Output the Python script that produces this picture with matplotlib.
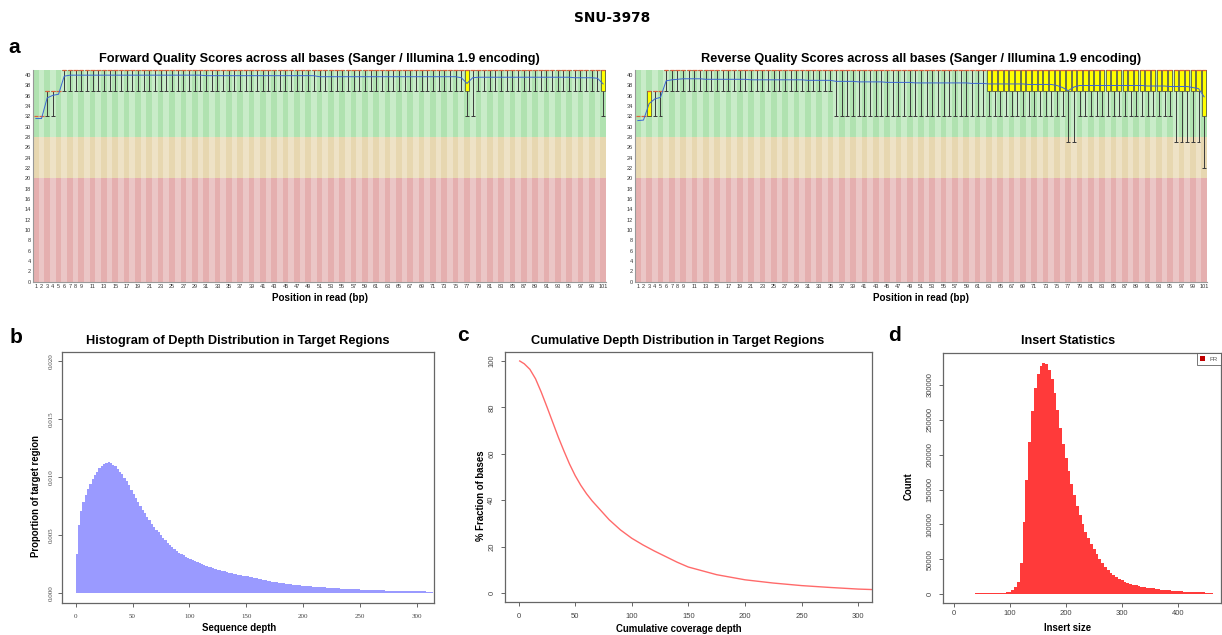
import numpy as np
import matplotlib
matplotlib.use("Agg")
import matplotlib.pyplot as plt
from matplotlib.patches import Patch

plt.rcParams['font.family'] = ['Liberation Sans', 'DejaVu Sans']

# ---- panel a: per-base quality, positions 1..101
positions = np.arange(1, 102)
pos_ticks = list(range(1, 10)) + list(range(11, 102, 2))

fwd_mean = ([31.6, 31.6, 35.6, 36.1, 36.3, 39.8] + [40.0] * 24 + [39.9] * 20 + [39.7] * 25
            + [39.5, 38.4, 39.5] + [39.6] * 17 + [39.5] * 4 + [39.4, 38.3])
fwd_lower = [32, 32, 32, 32, 37] + [37] * 71 + [32, 32] + [37] * 22 + [32]
fwd_q1 = [32, 32, 37, 37, 37] + [41] * 71 + [37, 41] + [41] * 22 + [37]
fwd_median = [32, 32, 37, 37, 37] + [41] * 96
fwd_q3 = [32, 32, 37, 37, 37] + [41] * 96
fwd_upper = [32, 32, 37, 37, 37] + [41] * 96

rev_mean = ([31.2, 31.3, 34.5, 35.4, 35.7, 38.9, 39.1, 39.2] + [39.3] * 4 + [39.2] * 8 + [39.1] * 10
            + [39.0] * 5 + [38.8] * 4 + [38.7] * 5 + [38.6] * 5 + [38.5] * 10 + [38.4] * 3
            + [38.3] * 7 + [38.2] * 5 + [38.0, 37.6, 37.0, 37.7] + [38.0] * 12 + [37.9] * 4
            + [37.8] * 4 + [37.6, 37.4, 35.8])
rev_lower = [32, 32, 32, 32, 32] + [37] * 30 + [32] * 41 + [27, 27] + [32] * 17 + [27] * 5 + [22]
rev_q1 = [32, 32, 32, 37, 37] + [41] * 57 + [37] * 38 + [32]
rev_median = [32, 32, 37, 37, 37] + [41] * 96
rev_q3 = [32, 32, 37, 37, 37] + [41] * 96
rev_upper = [32, 32, 37, 37, 37] + [41] * 96

# ---- panel b: depth histogram (proportion x 1e-3), depths 1,3,...,313
depth_bins = np.arange(1, 314, 2)
depth_prop_e3 = [
    3.4, 5.9, 7.1, 7.9, 8.5, 9.0, 9.45, 9.85, 10.2, 10.5,
    10.8, 11.0, 11.15, 11.25, 11.28, 11.22, 11.1, 10.95, 10.75, 10.5,
    10.25, 9.95, 9.65, 9.3, 8.95, 8.6, 8.25, 7.9, 7.55, 7.2,
    6.9, 6.6, 6.3, 6.0, 5.75, 5.5, 5.25, 5.0, 4.78, 4.56,
    4.36, 4.17, 3.99, 3.82, 3.66, 3.52, 3.39, 3.27, 3.16, 3.06,
    2.96, 2.87, 2.78, 2.69, 2.61, 2.53, 2.45, 2.38, 2.31, 2.24,
    2.17, 2.11, 2.05, 1.99, 1.94, 1.89, 1.84, 1.79, 1.74, 1.70,
    1.66, 1.62, 1.58, 1.54, 1.50, 1.46, 1.42, 1.38, 1.34, 1.30,
    1.26, 1.22, 1.18, 1.14, 1.10, 1.06, 1.02, 0.98, 0.95, 0.92,
    0.89, 0.86, 0.83, 0.80, 0.78, 0.76, 0.74, 0.72, 0.70, 0.68,
    0.66, 0.64, 0.62, 0.60, 0.585, 0.57, 0.555, 0.54, 0.525, 0.51,
    0.495, 0.48, 0.465, 0.45, 0.44, 0.43, 0.42, 0.41, 0.40, 0.39,
    0.38, 0.37, 0.36, 0.35, 0.34, 0.33, 0.32, 0.31, 0.30, 0.295,
    0.29, 0.28, 0.275, 0.27, 0.26, 0.255, 0.25, 0.24, 0.235, 0.23,
    0.225, 0.22, 0.215, 0.21, 0.205, 0.20, 0.195, 0.19, 0.185, 0.18,
    0.175, 0.17, 0.17, 0.165, 0.16, 0.16, 0.155,
]

# ---- panel c: cumulative depth
cum_depth = [1, 5, 10, 15, 20, 25, 30, 35, 40, 45, 50, 55, 60, 65, 70, 80, 90, 100,
             110, 120, 130, 140, 150, 175, 200, 225, 250, 275, 300, 312]
cum_frac = [100, 98.8, 96.4, 92.3, 86.6, 80.3, 73.8, 67.3, 61.3, 55.6, 50.6, 46.4, 42.8,
            39.7, 37.0, 31.6, 27.2, 23.6, 20.7, 18.1, 15.7, 13.3, 11.2, 7.9, 5.7, 4.3,
            3.2, 2.4, 1.7, 1.5]

# ---- panel d: insert size, 0,5,...,460
insert_size = np.arange(0, 461, 5)
insert_count = [
    300, 400, 500, 500, 600, 600, 700, 700, 800, 800,
    900, 900, 1000, 1100, 1200, 1300, 1500, 1800, 2200, 2800,
    3500, 6000, 10000, 17000, 45000, 103000, 163000, 218000, 262000, 295000,
    316000, 327000, 331000, 330000, 322000, 309000, 288000, 264000, 238000, 215000,
    195000, 176000, 158000, 142000, 127000, 113000, 100000, 89000, 80000, 72000,
    64000, 57000, 50000, 44000, 39000, 34500, 30500, 27000, 24000, 21500,
    19500, 17500, 16000, 14800, 13600, 12500, 11600, 10800, 10000, 9300,
    8700, 8100, 7500, 7000, 6500, 6000, 5600, 5200, 4800, 4500,
    4200, 3900, 3600, 3400, 3200, 3000, 2800, 2600, 2400, 2250,
    2100, 1950, 1800,
]

W, H = 1222, 635
fig = plt.figure(figsize=(W / 100, H / 100), dpi=100)


def box(l, t, r, b):
    return [l / W, 1 - b / H, (r - l) / W, (b - t) / H]


def px(x, y):
    return x / W, 1 - y / H


zones = [(0, 20, '#e5afaf', '#ebc6c6'),
         (20, 28, '#e7d7b0', '#eee2c6'),
         (28, 41, '#b0e2b0', '#c9ecc9')]


def quality_panel(ax, mean, lower, q1, med, q3, upper):
    mean, lower, q1, med, q3, upper = map(np.asarray, (mean, lower, q1, med, q3, upper))
    for lo, hi, dark, light in zones:
        cols = [dark if p % 2 else light for p in positions]
        ax.bar(positions, hi - lo, bottom=lo, width=1, color=cols, linewidth=0, zorder=0)
    w = lower < upper
    ax.vlines(positions[w], lower[w], upper[w], color='#3a3a3a', lw=0.7, zorder=2)
    ax.hlines(lower[w], positions[w] - 0.35, positions[w] + 0.35, color='#3a3a3a', lw=0.7, zorder=2)
    ax.hlines(upper[w], positions[w] - 0.35, positions[w] + 0.35, color='#3a3a3a', lw=0.7, zorder=2)
    b = q3 > q1
    ax.bar(positions[b], (q3 - q1)[b], bottom=q1[b], width=0.8, color='#ffff00',
           edgecolor='#404040', linewidth=0.5, zorder=3)
    ax.hlines(med, positions - 0.4, positions + 0.4, color='#e0603a', lw=0.9, zorder=4, clip_on=False)
    ax.plot(positions, mean, color='#3a66d4', lw=0.7, zorder=5)
    ax.set_xlim(0.5, 101.5)
    ax.set_ylim(0, 41)
    ax.set_yticks(range(0, 41, 2))
    ax.set_xticks(pos_ticks)
    ax.tick_params(length=0, labelsize=4, pad=1.5, colors='#333333')
    for s in ('top', 'right'):
        ax.spines[s].set_visible(False)
    for s in ('left', 'bottom'):
        ax.spines[s].set_color('#999999')
        ax.spines[s].set_linewidth(0.8)


ax_f = fig.add_axes(box(33, 70, 606, 281.7))
quality_panel(ax_f, fwd_mean, fwd_lower, fwd_q1, fwd_median, fwd_q3, fwd_upper)
ax_r = fig.add_axes(box(635, 70, 1207, 281.7))
quality_panel(ax_r, rev_mean, rev_lower, rev_q1, rev_median, rev_q3, rev_upper)

fig.text(*px(319.5, 59), 'Forward Quality Scores across all bases (Sanger / Illumina 1.9 encoding)',
         ha='center', va='center', fontsize=9.2, fontweight='bold')
fig.text(*px(921, 59), 'Reverse Quality Scores across all bases (Sanger / Illumina 1.9 encoding)',
         ha='center', va='center', fontsize=9.2, fontweight='bold')
fig.text(*px(320, 298), 'Position in read (bp)', ha='center', va='center', fontsize=7.1, fontweight='bold')
fig.text(*px(921, 298), 'Position in read (bp)', ha='center', va='center', fontsize=7.1, fontweight='bold')


def r_style(ax, size=5.5, family=None):
    for s in ax.spines.values():
        s.set_color('#666666')
        s.set_linewidth(0.9)
    ax.tick_params(direction='out', length=3, width=0.7, color='#666666',
                   labelsize=size, labelcolor='#444444')
    if family:
        for lab in ax.get_xticklabels() + ax.get_yticklabels():
            lab.set_family(family)
    plt.setp(ax.get_yticklabels(), rotation=90, va='center')


# panel b
ax_b = fig.add_axes(box(62, 352, 434, 602.7))
ax_b.bar(depth_bins, np.array(depth_prop_e3) / 1000, width=2, color='#9a9aff', linewidth=0)
ax_b.set_xlim(-12, 315)
ax_b.set_ylim(-0.0008, 0.0208)
ax_b.set_xticks(range(0, 301, 50))
ax_b.set_yticks([0, 0.005, 0.01, 0.015, 0.02])
ax_b.set_yticklabels(['0.000', '0.005', '0.010', '0.015', '0.020'])
r_style(ax_b, 5, 'Liberation Serif')
ax_b.tick_params(axis='x', pad=5)
ax_b.tick_params(axis='y', pad=3)

# panel c
ax_c = fig.add_axes(box(505, 351.7, 871.7, 602.3))
ax_c.plot(cum_depth, cum_frac, color='#ff6a6a', lw=1)
ax_c.set_xlim(-12, 312)
ax_c.set_ylim(-4, 104)
ax_c.set_xticks(range(0, 301, 50))
ax_c.set_yticks(range(0, 101, 20))
r_style(ax_c)
ax_c.tick_params(axis='x', pad=5)
ax_c.tick_params(axis='y', pad=4)

# panel d
ax_d = fig.add_axes(box(943.3, 353.3, 1221, 603.3))
ax_d.bar(insert_size, insert_count, width=5, color='#ff3a3a', linewidth=0)
ax_d.set_xlim(-19, 476)
ax_d.set_ylim(-13300, 345500)
ax_d.set_xticks(range(0, 401, 100))
ax_d.set_yticks(range(0, 300001, 50000))
ax_d.set_yticklabels([str(v) for v in range(0, 300001, 50000)])
r_style(ax_d)
ax_d.tick_params(axis='x', pad=2)
ax_d.tick_params(axis='y', pad=4)
leg = ax_d.legend(handles=[Patch(facecolor='#c00000', label='FR')], loc='upper right',
                  fontsize=4.5, fancybox=False, edgecolor='#555555', borderaxespad=0,
                  handlelength=0.7, handleheight=0.7, borderpad=0.5)
leg.get_frame().set_linewidth(0.7)
for t in leg.get_texts():
    t.set_color('#555555')

# titles and axis labels for b, c, d
fig.text(*px(238, 341), 'Histogram of Depth Distribution in Target Regions',
         ha='center', va='center', fontsize=9.2, fontweight='bold')
fig.text(*px(678, 341), 'Cumulative Depth Distribution in Target Regions',
         ha='center', va='center', fontsize=9.2, fontweight='bold')
fig.text(*px(1068, 341.5), 'Insert Statistics', ha='center', va='center', fontsize=9.1, fontweight='bold')
fig.text(*px(239.5, 628), 'Sequence depth', ha='center', va='center', fontsize=6.9, fontweight='bold')
fig.text(*px(679, 628.5), 'Cumulative coverage depth', ha='center', va='center', fontsize=6.9, fontweight='bold')
fig.text(*px(1068, 628), 'Insert size', ha='center', va='center', fontsize=6.9, fontweight='bold')
fig.text(*px(36, 496), 'Proportion of target region', ha='center', va='center', rotation=90,
         fontsize=6.9, fontweight='bold')
fig.text(*px(480.5, 496), '% Fraction of bases', ha='center', va='center', rotation=90,
         fontsize=6.9, fontweight='bold')
fig.text(*px(909, 486), 'Count', ha='center', va='center', rotation=90, fontsize=6.9, fontweight='bold')

# panel letters and overall title
for letter, x, y in [('a', 8, 53), ('b', 10, 342.7), ('c', 456.7, 340.7), ('d', 888.3, 340.7)]:
    fig.text(*px(x, y), letter, ha='left', va='baseline', fontsize=15, fontweight='bold')
fig.text(*px(612, 18), 'SNU-3978', ha='center', va='center', fontsize=9.8, fontweight='bold',
         family=['DejaVu Sans'])

fig.savefig('out.png', dpi=100)
